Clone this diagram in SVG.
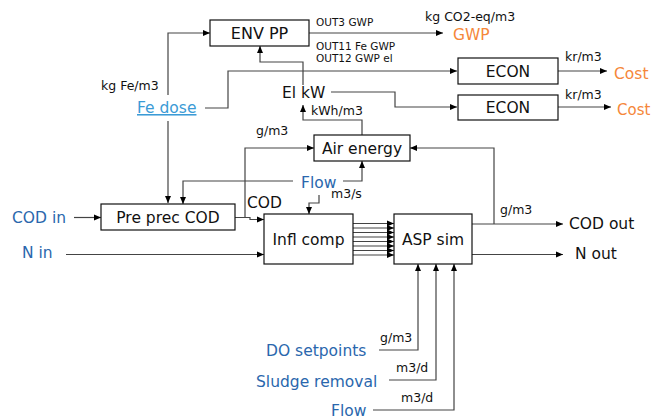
<svg xmlns="http://www.w3.org/2000/svg" width="653" height="419" viewBox="0 0 653 419">
<defs>
<marker id="ah" markerUnits="userSpaceOnUse" markerWidth="8" markerHeight="8" viewBox="0 0 8 8" refX="7" refY="4" orient="auto">
<path d="M0,1 L7,4 L0,7 Z" fill="#000"/>
</marker>
<style>
text{font-family:"DejaVu Sans","Verdana",sans-serif;fill:#111}
.box rect{fill:#fff;stroke:#111;stroke-width:1.2}
.box text{font-size:15.5px;text-anchor:middle}
.c path{fill:none;stroke:#444;stroke-width:1.2}
.c .a{marker-end:url(#ah)}
.u{font-size:12.5px}
.s{font-size:10.5px}
.in{font-size:15.5px;fill:#2a67ad}
.out{font-size:15.5px;fill:#f5873a}
.lk{font-size:15.5px;fill:#3b9bd6;text-decoration:underline}
.blk{font-size:15.5px}
</style>
</defs>
<g id="connectors" class="c">
<path class="a" d="M168,95 V33 H210"/>
<path class="a" d="M168,121 V203"/>
<path class="a" d="M309,33 H443"/>
<path class="a" d="M205,108 H228 V71 H457"/>
<path class="a" d="M303,85 V62 H260 V46"/>
<path class="a" d="M331,92 H395 V107 H457"/>
<path class="a" d="M558,71 H607"/>
<path class="a" d="M558,107 H611"/>
<path class="a" d="M362,135 V120 H303 V105"/>
<path class="a" d="M245,217 V148 H314"/>
<path class="a" d="M293,181 H183 V204"/>
<path class="a" d="M343,181 H362 V161"/>
<path class="a" d="M319,195 V203 H309 V214"/>
<path class="a" d="M74,217.5 H101"/>
<path class="a" d="M235,217.5 H250 V219.5 H264"/>
<path class="a" d="M66,254.5 H264"/>
<path class="a" d="M353,223.5 H394"/>
<path class="a" d="M353,228 H394"/>
<path class="a" d="M353,232.5 H394"/>
<path class="a" d="M353,237 H394"/>
<path class="a" d="M353,241.5 H394"/>
<path class="a" d="M353,246 H394"/>
<path class="a" d="M353,250.5 H394"/>
<path class="a" d="M353,255 H394"/>
<path class="a" d="M472,224 H563"/>
<path class="a" d="M494,224 V148 H410"/>
<path class="a" d="M472,254.5 H563"/>
<path class="a" d="M379,350 H418 V264"/>
<path class="a" d="M389,380 H436 V264"/>
<path class="a" d="M373,410 H454 V264"/>
</g>
<g id="envpp" class="box"><rect x="210" y="20" width="99" height="26"/><text x="259.5" y="39" style="font-size:16px">ENV PP</text></g>
<g id="econ1" class="box"><rect x="458" y="58" width="100" height="26"/><text x="508" y="77">ECON</text></g>
<g id="econ2" class="box"><rect x="458" y="95" width="100" height="25"/><text x="508" y="113">ECON</text></g>
<g id="airenergy" class="box"><rect x="314" y="135" width="96" height="26"/><text x="362" y="154">Air energy</text></g>
<g id="preprec" class="box"><rect x="101" y="204" width="134" height="26"/><text x="168" y="223">Pre prec COD</text></g>
<g id="inflcomp" class="box"><rect x="264" y="214" width="89" height="50"/><text x="308.5" y="245">Infl comp</text></g>
<g id="aspsim" class="box"><rect x="394" y="214" width="78" height="50"/><text x="433" y="245">ASP sim</text></g>
<g id="elkw"><text class="blk" x="282" y="98">El kW</text></g>
<g id="fedose"><text class="lk" x="137" y="113">Fe dose</text></g>
<g id="gwp"><text class="out" x="453" y="40">GWP</text></g>
<g id="cost1"><text class="out" x="614" y="79">Cost</text></g>
<g id="cost2"><text class="out" x="617" y="115" style="font-size:15px">Cost</text></g>
<g id="flow1"><text class="in" x="301" y="188">Flow</text></g>
<g id="codin"><text class="in" x="12" y="223">COD in</text></g>
<g id="nin"><text class="in" x="22" y="258">N in</text></g>
<g id="codout"><text class="blk" x="569" y="229">COD out</text></g>
<g id="nout"><text class="blk" x="575" y="259">N out</text></g>
<g id="dosp"><text class="in" x="266" y="356">DO setpoints</text></g>
<g id="sludge"><text class="in" x="256" y="387">Sludge removal</text></g>
<g id="flow2"><text class="in" x="331" y="416">Flow</text></g>
<g id="labels">
<text class="u" x="425" y="21">kg CO2-eq/m3</text>
<text class="s" x="316" y="26">OUT3 GWP</text>
<text class="s" x="316" y="50">OUT11 Fe GWP</text>
<text class="s" x="316" y="62">OUT12 GWP el</text>
<text class="u" x="101" y="90">kg Fe/m3</text>
<text class="u" x="565" y="61">kr/m3</text>
<text class="u" x="565" y="99">kr/m3</text>
<text class="u" x="311" y="115">kWh/m3</text>
<text class="u" x="256" y="135">g/m3</text>
<text class="blk" x="247" y="208">COD</text>
<text class="u" x="331" y="198">m3/s</text>
<text class="u" x="500" y="214">g/m3</text>
<text class="u" x="380" y="342">g/m3</text>
<text class="u" x="396" y="372">m3/d</text>
<text class="u" x="401" y="402">m3/d</text>
</g>
</svg>
